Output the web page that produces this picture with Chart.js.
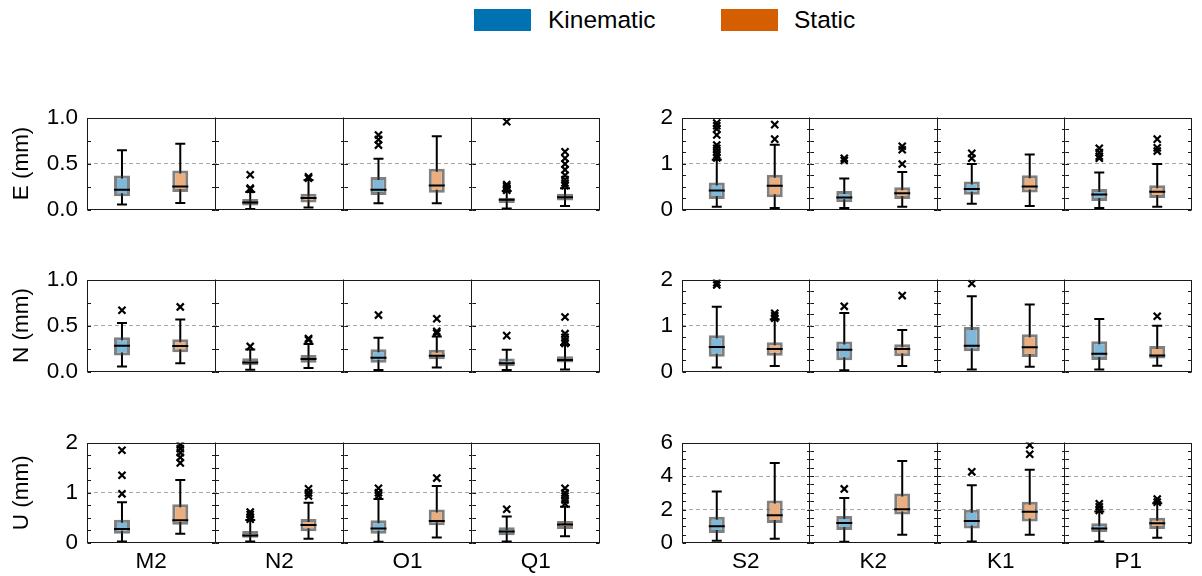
<!DOCTYPE html>
<html>
<head>
<meta charset="utf-8">
<script src="https://cdn.jsdelivr.net/npm/chart.js@4.4.1/dist/chart.umd.min.js"></script>
<style>
  body { margin: 0; background: #fff; width: 1202px; height: 576px; position: relative; overflow: hidden;
         font-family: "Liberation Sans", Arial, sans-serif; }
  canvas { position: absolute; }
  .sw { position: absolute; top: 9px; width: 57px; height: 22px; }
  .lt { position: absolute; top: 5px; font-size: 24.5px; line-height: 30px; color: #000; }
</style>
</head>
<body>
<div class="sw" style="left:474px;background:#0072B2"></div>
<div class="lt" style="left:548px">Kinematic</div>
<div class="sw" style="left:721px;background:#D55E00"></div>
<div class="lt" style="left:794px">Static</div>

<script>
// categories
const catsA = ['M2', 'N2', 'O1', 'Q1'];
const catsB = ['S2', 'K2', 'K1', 'P1'];

// box stats per category: [low whisker, q1, median, q3, high whisker]
const eKinA = [[0.053, 0.145, 0.214, 0.37, 0.644], [0.006, 0.043, 0.077, 0.115, 0.19], [0.068, 0.158, 0.214, 0.353, 0.551], [0.01, 0.071, 0.105, 0.127, 0.2]];
const eStaA = [[0.07, 0.19, 0.25, 0.424, 0.715], [0.022, 0.077, 0.124, 0.17, 0.32], [0.068, 0.183, 0.26, 0.443, 0.796], [0.037, 0.099, 0.133, 0.17, 0.232]];
const eKinOutA = [[], [0.378, 0.232, 0.22], [0.81, 0.76, 0.70], [0.954, 0.27, 0.25, 0.23, 0.22, 0.21]];
const eStaOutA = [[], [0.355, 0.34], [], [0.628, 0.557, 0.495, 0.433, 0.372, 0.325, 0.288, 0.26]];

const eKinB = [[0.062, 0.229, 0.415, 0.588, 1.08], [0.031, 0.155, 0.26, 0.402, 0.675], [0.124, 0.322, 0.446, 0.607, 0.99], [0.031, 0.186, 0.328, 0.446, 0.805]];
const eStaB = [[0.031, 0.266, 0.514, 0.755, 1.405], [0.062, 0.229, 0.353, 0.483, 0.817], [0.074, 0.372, 0.502, 0.743, 1.195], [0.062, 0.248, 0.384, 0.526, 0.99]];
const eKinOutB = [[1.88, 1.82, 1.75, 1.62, 1.40, 1.33, 1.25, 1.18, 1.12], [1.115, 1.065], [1.22, 1.115], [1.33, 1.24, 1.16, 1.115]];
const eStaOutB = [[1.845, 1.53], [1.375, 1.30, 0.99], [], [1.53, 1.34, 1.27]];

const nKinA = [[0.055, 0.175, 0.279, 0.371, 0.528], [0.018, 0.067, 0.098, 0.144, 0.24], [0.015, 0.095, 0.15, 0.242, 0.368], [0.015, 0.058, 0.089, 0.141, 0.236]];
const nStaA = [[0.089, 0.209, 0.276, 0.35, 0.564], [0.037, 0.095, 0.135, 0.18, 0.30], [0.043, 0.132, 0.172, 0.236, 0.38], [0.021, 0.098, 0.126, 0.166, 0.288]];
const nKinOutA = [[0.666], [0.273], [0.613], [0.39]];
const nStaOutA = [[0.702], [0.359, 0.344], [0.574, 0.436, 0.417], [0.592, 0.411, 0.371, 0.334, 0.304]];

const nKinB = [[0.086, 0.319, 0.534, 0.79, 1.405], [0.025, 0.245, 0.472, 0.65, 1.27], [0.043, 0.442, 0.558, 0.969, 1.638], [0.043, 0.252, 0.387, 0.656, 1.14]];
const nStaB = [[0.117, 0.344, 0.49, 0.638, 1.13], [0.117, 0.331, 0.49, 0.595, 0.902], [0.104, 0.313, 0.528, 0.81, 1.454], [0.123, 0.282, 0.35, 0.552, 0.994]];
const nKinOutB = [[1.93, 1.88], [1.417], [1.914], []];
const nStaOutB = [[1.264, 1.21, 1.16], [1.65], [], [1.202]];

const uKinA = [[0.031, 0.185, 0.277, 0.462, 0.812], [0.031, 0.105, 0.148, 0.24, 0.46], [0.025, 0.185, 0.289, 0.455, 0.874], [0.031, 0.154, 0.228, 0.314, 0.529]];
const uStaA = [[0.185, 0.363, 0.455, 0.769, 1.255], [0.086, 0.234, 0.357, 0.48, 0.8], [0.111, 0.351, 0.437, 0.665, 1.132], [0.135, 0.277, 0.369, 0.437, 0.72]];
const uKinOutA = [[1.846, 1.348, 0.978], [0.615, 0.566, 0.517, 0.474], [1.09, 1.0, 0.94], [0.671]];
const uStaOutA = [[1.95, 1.877, 1.797, 1.705, 1.594], [1.077, 0.997, 0.935], [1.292], [1.09, 0.997, 0.935, 0.855, 0.782]];

const uKinB = [[0.13, 0.59, 1.0, 1.57, 3.08], [0.074, 0.775, 1.2, 1.61, 2.68], [0.09, 0.87, 1.31, 1.99, 3.45], [0.09, 0.646, 0.87, 1.18, 1.88]];
const uStaB = [[0.26, 1.2, 1.66, 2.53, 4.78], [0.5, 1.7, 2.01, 2.95, 4.89], [0.5, 1.29, 1.865, 2.47, 4.375], [0.31, 0.83, 1.18, 1.51, 2.38]];
const uKinOutB = [[], [3.23], [4.25], [2.34, 2.16, 1.94]];
const uStaOutB = [[], [], [5.85, 5.3], [2.62, 2.44]];

// labelled y ticks
const ticksEN_A = [0, 0.5, 1.0];
const ticksEN_B = [0, 1, 2];
const ticksU_A = [0, 1, 2];
const ticksU_B = [0, 2, 4, 6];

const FS = 22.5;
const FONT = '"Liberation Sans", Arial, sans-serif';
const SPAN = 2.2;           // width of one sub panel in x units
const KIN_FILL = '#7fb8d8';
const STA_FILL = '#eaae7f';
const EDGE = 'rgba(60,60,60,0.65)';

const panels = [
  { top: 109, side: 'A', title: 'E (mm)', cats: catsA, kin: eKinA, sta: eStaA, kinOut: eKinOutA, staOut: eStaOutA, ymax: 1, minor: 0.25, major: ticksEN_A, dec: 1 },
  { top: 109, side: 'B', title: '', cats: catsB, kin: eKinB, sta: eStaB, kinOut: eKinOutB, staOut: eStaOutB, ymax: 2, minor: 0.25, major: ticksEN_B, dec: 0 },
  { top: 271, side: 'A', title: 'N (mm)', cats: catsA, kin: nKinA, sta: nStaA, kinOut: nKinOutA, staOut: nStaOutA, ymax: 1, minor: 0.25, major: ticksEN_A, dec: 1 },
  { top: 271, side: 'B', title: '', cats: catsB, kin: nKinB, sta: nStaB, kinOut: nKinOutB, staOut: nStaOutB, ymax: 2, minor: 0.25, major: ticksEN_B, dec: 0 },
  { top: 434, side: 'A', title: 'U (mm)', cats: catsA, kin: uKinA, sta: uStaA, kinOut: uKinOutA, staOut: uStaOutA, ymax: 2, minor: 0.25, major: ticksU_A, dec: 0, xlabels: true },
  { top: 434, side: 'B', title: '', cats: catsB, kin: uKinB, sta: uStaB, kinOut: uKinOutB, staOut: uStaOutB, ymax: 6, minor: 0.5, major: ticksU_B, dec: 0, xlabels: true }
];

// frame + inward tick marks on every sub panel edge
const framePlugin = {
  id: 'frame',
  afterDraw(chart) {
    const { ctx, chartArea: a, scales: { x, y } } = chart;
    const vals = chart.options.plugins.frame.ticks;
    const L = Math.round(a.left) + 0.5, R = Math.round(a.right) - 0.5;
    const T = Math.round(a.top) + 0.5, B = Math.round(a.bottom) - 0.5;
    ctx.save();
    ctx.strokeStyle = '#1a1a1a';
    ctx.lineWidth = 1;
    ctx.strokeRect(L, T, R - L, B - T);
    ctx.beginPath();
    vals.forEach(v => {
      const py = Math.round(y.getPixelForValue(v)) + 0.5;
      for (let k = 0; k <= 4; k++) {
        const px = k === 0 ? L : k === 4 ? R : Math.round(x.getPixelForValue(k * SPAN)) + 0.5;
        if (k < 4) { ctx.moveTo(px, py); ctx.lineTo(px + 3.5, py); }
        if (k > 0) { ctx.moveTo(px - 3.5, py); ctx.lineTo(px, py); }
      }
    });
    ctx.stroke();
    ctx.restore();
  }
};

function boxDatasets(stats, outs, off, fill) {
  const xs = stats.map((s, k) => k * SPAN + off);
  return [
    { type: 'bar', data: stats.map((s, k) => ({ x: xs[k], y: [s[0], s[4]] })),
      backgroundColor: '#000', borderWidth: 0, maxBarThickness: 2, grouped: false, order: 4 },
    { type: 'bar', data: stats.map((s, k) => ({ x: xs[k], y: [s[1], s[3]] })),
      backgroundColor: fill, borderColor: EDGE, borderWidth: 3, borderSkipped: false,
      maxBarThickness: 16, grouped: false, order: 3 },
    { type: 'scatter', data: stats.flatMap((s, k) => [{ x: xs[k], y: s[0] }, { x: xs[k], y: s[4] }]),
      pointStyle: 'line', pointRadius: 5, pointBorderWidth: 2, pointBorderColor: '#000', order: 2 },
    { type: 'scatter', data: stats.map((s, k) => ({ x: xs[k], y: s[2] })),
      pointStyle: 'line', pointRadius: 8, pointBorderWidth: 2, pointBorderColor: '#000', order: 1 },
    { type: 'scatter', data: outs.flatMap((o, k) => o.map(v => ({ x: xs[k], y: v }))),
      pointStyle: 'crossRot', pointRadius: 5, pointBorderWidth: 2.2, pointBorderColor: '#000',
      pointBackgroundColor: '#000', order: 0 }
  ];
}

panels.forEach(p => {
  const isA = p.side === 'A';
  const yw = isA ? 87 : 42;
  const padR = isA ? 2 : 0;
  const xh = p.xlabels ? 40 : 0;
  const padB = p.xlabels ? 0 : 14;
  const cv = document.createElement('canvas');
  cv.width = isA ? 610 : 562;
  cv.height = 14 + 109 + xh + padB;
  cv.style.left = (isA ? 0 : 640) + 'px';
  cv.style.top = (p.top - 14) + 'px';
  document.body.appendChild(cv);

  const xTicks = [];
  for (let i = 0; i <= 8; i++) xTicks.push(i * SPAN / 2);
  const yTicks = [];
  for (let v = 0; v <= p.ymax + 1e-9; v += p.minor) yTicks.push(v);
  const isMajor = v => p.major.includes(v);

  new Chart(cv, {
    type: 'bar',
    data: {
      datasets: [
        ...boxDatasets(p.kin, p.kinOut, 0.6, KIN_FILL),
        ...boxDatasets(p.sta, p.staOut, 1.6, STA_FILL)
      ]
    },
    options: {
      responsive: false,
      animation: false,
      events: [],
      layout: { padding: { top: 14, bottom: padB, left: 0, right: padR } },
      plugins: { legend: { display: false }, tooltip: { enabled: false }, frame: { ticks: yTicks } },
      scales: {
        x: {
          type: 'linear', min: 0, max: SPAN * 4, offset: false,
          afterBuildTicks: s => { s.ticks = xTicks.map(v => ({ value: v })); },
          afterFit: s => { s.height = xh; },
          grid: { offset: false, drawTicks: false, lineWidth: 1,
                  color: c => (c.index > 0 && c.index < 8 && c.index % 2 === 0) ? '#1a1a1a' : 'rgba(0,0,0,0)' },
          border: { display: false },
          ticks: { display: !!p.xlabels, autoSkip: false, maxRotation: 0, minRotation: 0, padding: 5,
                   color: '#000', font: { size: FS, family: FONT },
                   callback: (v, i) => i % 2 ? p.cats[(i - 1) / 2] : '' }
        },
        y: {
          type: 'linear', min: 0, max: p.ymax,
          afterBuildTicks: s => { s.ticks = yTicks.map(v => ({ value: v })); },
          afterFit: s => { s.width = yw; },
          grid: { drawTicks: false, lineWidth: 1,
                  color: c => (c.tick && c.tick.value > 0 && c.tick.value < p.ymax && isMajor(c.tick.value)) ? '#a8a8a8' : 'rgba(0,0,0,0)' },
          border: { display: false, dash: [4, 3] },
          ticks: { autoSkip: false, padding: 9, color: '#000',
                   font: { size: FS, family: FONT },
                   callback: v => isMajor(v) ? v.toFixed(p.dec) : '' },
          title: { display: !!p.title, text: p.title, color: '#000', padding: { top: 8, bottom: 0 },
                   font: { size: FS, family: FONT } }
        }
      }
    },
    plugins: [framePlugin]
  });
});
</script>
</body>
</html>
